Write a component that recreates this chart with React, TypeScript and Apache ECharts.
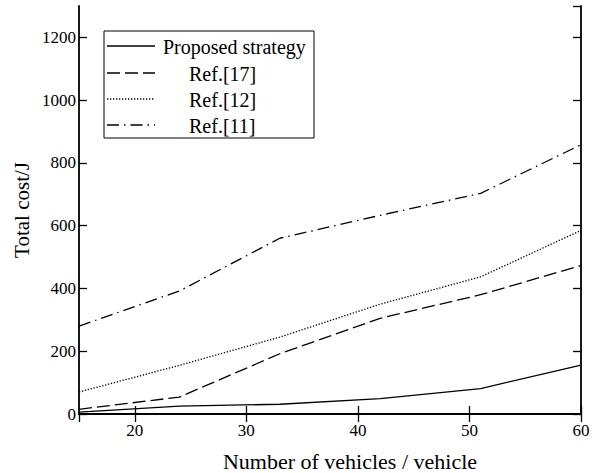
import React, { useEffect, useRef } from "react";
import * as echarts from "echarts";

const xValues = [15, 24, 33, 42, 51, 60];
const proposed = [6, 25, 31, 49, 81, 156];
const ref17 = [15, 54, 192, 305, 380, 473];
const ref12 = [70, 155, 245, 350, 437, 585];
const ref11 = [280, 392, 560, 633, 703, 858];
const seriesNames = ["Proposed strategy", "Ref.[17]", "Ref.[12]", "Ref.[11]"];
const xAxisTitle = "Number of vehicles / vehicle";
const yAxisTitle = "Total cost/J";

const FONT = "'Liberation Serif', 'Times New Roman', serif";
const dashes: (number[] | null)[] = [null, [13, 5], [1.3, 1.7], [12, 5, 1.5, 5]];

export default function App() {
  const ref = useRef<HTMLDivElement>(null);
  useEffect(() => {
    if (!ref.current) return;
    const chart = echarts.init(ref.current, null, { renderer: "svg" });
    const datasets = [proposed, ref17, ref12, ref11];
    const lineStyleFor = (i: number) =>
      dashes[i]
        ? { color: "#000", width: 1.3, type: dashes[i] as number[] }
        : { color: "#000", width: 1.3, type: "solid" as const };

    const series = datasets.map((d, i) => ({
      name: seriesNames[i],
      type: "line",
      data: d.map((v, j) => [xValues[j], v]),
      showSymbol: false,
      symbol: "none",
      lineStyle: lineStyleFor(i),
      xAxisIndex: 0,
      yAxisIndex: 0,
    }));

    const legendX = 104;
    const legendY = 31;
    const rowYs = [46, 73, 99, 125];
    const legendGraphics: any[] = [
      {
        type: "rect",
        shape: { x: legendX, y: legendY, width: 210, height: 107 },
        style: { fill: "#fff", stroke: "#000", lineWidth: 1 },
        z: 100,
      },
    ];
    seriesNames.forEach((n, i) => {
      legendGraphics.push({
        type: "line",
        shape: { x1: 107, y1: rowYs[i], x2: 155, y2: rowYs[i] },
        style: { stroke: "#000", lineWidth: 1.3, lineDash: dashes[i] || undefined },
        z: 101,
      });
      legendGraphics.push({
        type: "text",
        x: i === 0 ? 163 : 189,
        y: rowYs[i] + 1,
        style: {
          text: n,
          fill: "#000",
          font: `20px ${FONT}`,
          textVerticalAlign: "middle",
          verticalAlign: "middle",
        },
        z: 101,
      });
    });

    const axisLineStyle = { lineStyle: { color: "#000", width: 1.8 } };
    const tickStyle = { inside: true, length: 8, lineStyle: { color: "#000", width: 1.3 } };
    chart.setOption({
      animation: false,
      backgroundColor: "#fff",
      textStyle: { fontFamily: FONT, color: "#000" },
      grid: { left: 79, right: 14, top: 6, bottom: 59, containLabel: false, outerBoundsMode: "none" },
      xAxis: [
        {
          type: "value",
          min: 15,
          max: 60,
          splitNumber: 5,
          position: "bottom",
          name: xAxisTitle,
          nameLocation: "middle",
          nameGap: 36,
          nameMoveOverlap: false,
          nameTextStyle: { fontSize: 22, fontFamily: FONT, color: "#000", padding: [0, 0, 0, 40] },
          axisLine: axisLineStyle,
          axisTick: tickStyle,
          axisLabel: {
            showMinLabel: false,
            fontSize: 17,
            fontFamily: FONT,
            color: "#000",
            margin: 8,
            formatter: (v: number) => String(v),
          },
          splitLine: { show: false },
        },
        {
          type: "value",
          min: 15,
          max: 60,
          splitNumber: 5,
          position: "top",
          axisLine: axisLineStyle,
          axisTick: tickStyle,
          axisLabel: { show: false },
          splitLine: { show: false },
        },
      ],
      yAxis: [
        {
          type: "value",
          min: 0,
          max: 1300,
          interval: 200,
          position: "left",
          name: yAxisTitle,
          nameLocation: "middle",
          nameGap: 47,
          nameMoveOverlap: false,
          nameTextStyle: { fontSize: 21, fontFamily: FONT, color: "#000" },
          axisLine: axisLineStyle,
          axisTick: tickStyle,
          axisLabel: {
            showMaxLabel: false,
            fontSize: 17,
            fontFamily: FONT,
            color: "#000",
            margin: 3,
            formatter: (v: number) => String(v),
          },
          splitLine: { show: false },
        },
        {
          type: "value",
          min: 0,
          max: 1300,
          interval: 200,
          position: "right",
          axisLine: axisLineStyle,
          axisTick: tickStyle,
          axisLabel: { show: false },
          splitLine: { show: false },
        },
      ],
      series,
      graphic: legendGraphics,
    });
    return () => chart.dispose();
  }, []);
  return <div ref={ref} style={{ width: 595, height: 473, position: "absolute", left: 0, top: 0 }} />;
}
